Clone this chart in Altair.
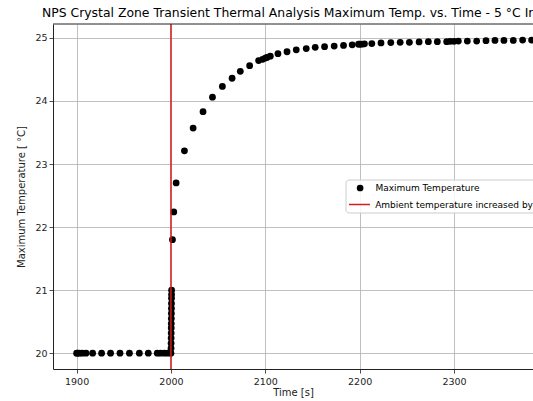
import altair as alt
import pandas as pd

# ---- data ----
times = [1900, 1901, 1903, 1906, 1910, 1917, 1926.5, 1936, 1946, 1956, 1966.5, 1976, 1985.5, 1989, 1993, 1996.5, 2000,
         2000.1, 2000.15, 2000.2, 2000.25, 2000.3, 2000.35, 2000.4, 2000.45, 2000.5, 2000.55, 2000.6, 2000.65, 2000.7,
         2001.6, 2003, 2005.5, 2014.3, 2023.5, 2034, 2044, 2054.5, 2064.8, 2073.5,
         2083.4, 2092.9, 2097.1, 2100, 2101.8, 2105.3, 2113.4, 2123, 2132.8, 2143.4,
         2152.9, 2162.8, 2173, 2182.9, 2192.1, 2198.8, 2200, 2202.3, 2205.1, 2212.9,
         2222.6, 2233, 2242.9, 2252.7, 2263, 2272.8, 2282.3, 2292.2, 2296, 2300,
         2304.6, 2314.1, 2324, 2333.9, 2343.4, 2352.9, 2362.8, 2372.7, 2382.2, 2392, 2400]
temps = [20.0] * 17 + \
        [20.08, 20.16, 20.24, 20.32, 20.40, 20.47, 20.55, 20.63, 20.71, 20.79, 20.87, 20.93, 21.0] + \
        [21.80, 22.24, 22.70, 23.21, 23.57, 23.83, 24.06, 24.23, 24.36, 24.47,
         24.56, 24.64, 24.66, 24.68, 24.69, 24.71, 24.75, 24.78, 24.81, 24.83,
         24.85, 24.86, 24.87, 24.88, 24.89, 24.90, 24.90, 24.90, 24.905, 24.91,
         24.92, 24.925, 24.93, 24.93, 24.935, 24.94, 24.94, 24.94, 24.945, 24.945,
         24.95, 24.95, 24.95, 24.955, 24.96, 24.96, 24.96, 24.965, 24.965, 24.97, 24.97]
event_time = [2000]
series_names = ["Maximum Temperature", "Ambient temperature increased by 5 °C"]
series_colors = ["#000000", "#d41c1c"]
x_ticks = [1900, 2000, 2100, 2200, 2300, 2400]
y_ticks = [20, 21, 22, 23, 24, 25]
x_domain = [1875, 2383.7]   # the reference image is cropped on the right
y_domain = [19.75, 25.22]
title_text = "NPS Crystal Zone Transient Thermal Analysis Maximum Temp. vs. Time - 5 °C Increase"

df = pd.DataFrame({"Time": times, "Temp": temps, "series": series_names[0]})
ev = pd.DataFrame({"Time": event_time, "series": series_names[1]})
deco_df = pd.DataFrame({"k": [0]})

W, H = 480, 345

common_legend = dict(orient="none", title=None, padding=0, labelFontSize=9, labelLimit=0,
                     labelColor="#000000", labelFont="DejaVu Sans", symbolOpacity=1)
legend_pts = alt.Legend(legendX=302.6, legendY=159.5, labelOffset=10.8, symbolSize=45,
                        symbolType="circle", **common_legend)
legend_rule = alt.Legend(legendX=295, legendY=169, labelOffset=4.2, symbolSize=441,
                         symbolType="stroke", symbolStrokeWidth=1.5, **common_legend)

x_scale = alt.Scale(domain=x_domain, nice=False, zero=False)
x_enc = alt.X("Time:Q", scale=x_scale,
              axis=alt.Axis(values=x_ticks, title="Time [s]", format="d"))
y_enc = alt.Y("Temp:Q", scale=alt.Scale(domain=y_domain, nice=False, zero=False),
              axis=alt.Axis(values=y_ticks, title="Maximum Temperature [ °C]", format="d"))

points = alt.Chart(df).mark_point(filled=True, size=46, opacity=1, strokeWidth=0, clip=True).encode(
    x=x_enc, y=y_enc,
    fill=alt.Fill("series:N", scale=alt.Scale(domain=series_names[:1], range=series_colors[:1]),
                  legend=legend_pts),
)
rule = alt.Chart(ev).mark_rule(strokeWidth=1.5, clip=True).encode(
    x=alt.X("Time:Q", scale=x_scale),
    stroke=alt.Stroke("series:N", scale=alt.Scale(domain=series_names[1:], range=series_colors[1:]),
                      legend=legend_rule),
)
legend_frame = alt.Chart(deco_df).mark_rect(
    fill="white", fillOpacity=0.85, stroke="#cccccc", strokeWidth=1, cornerRadius=3
).encode(x=alt.value(293), x2=alt.value(530), y=alt.value(156), y2=alt.value(189))
top_spine = alt.Chart(deco_df).mark_rule(color="#222222", strokeWidth=1).encode(
    x=alt.value(0), x2=alt.value(W + 5), y=alt.value(0))

chart = alt.layer(points, rule, legend_frame, top_spine).resolve_scale(
    fill="independent", stroke="independent"
).properties(
    width=W, height=H,
    autosize=alt.AutoSizeParams(type="none"),
    padding={"left": 53, "top": 24, "right": 0, "bottom": 32},
    title=alt.Title(title_text, anchor="start", frame="group", dx=-11, fontSize=12.4,
                    font="DejaVu Sans", fontWeight="normal", color="#000000", offset=4),
).configure(font="DejaVu Sans").configure_view(
    stroke=None
).configure_axis(
    grid=True, gridColor="#b0b0b0", gridWidth=0.8,
    domain=True, domainColor="#222222", domainWidth=1,
    tickColor="#222222", tickSize=4, tickWidth=0.8,
    labelFontSize=9.5, labelColor="#222222", labelPadding=2,
    titleFontSize=10, titleFontWeight="normal", titleColor="#222222",
).configure_axisX(titlePadding=2, labelPadding=3).configure_axisY(titlePadding=8)

chart.save("out.html", embed_options={"renderer": "svg", "actions": False})
